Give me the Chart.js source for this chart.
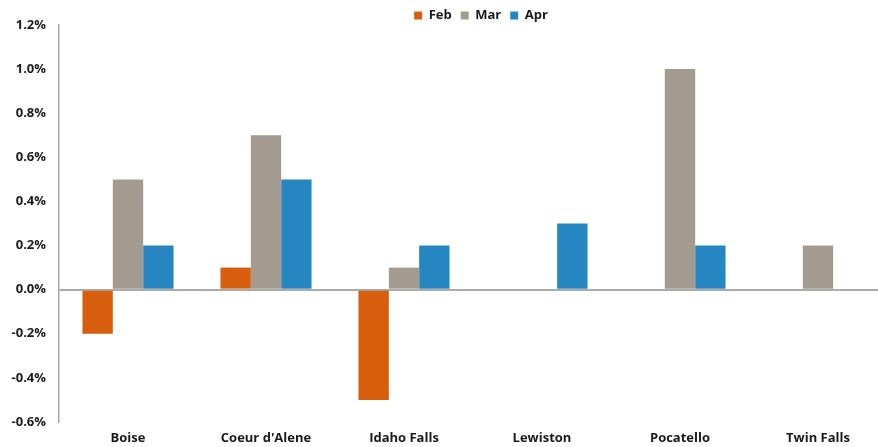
<!DOCTYPE html>
<html>
<head>
<meta charset="utf-8">
<script src="https://cdn.jsdelivr.net/npm/chart.js@4"></script>
<style>
    html, body { margin: 0; padding: 0; background: #fff; overflow: hidden; }
    #wrap { width: 887px; height: 447px; position: relative; }
</style>
</head>
<body>
<div id="wrap"><canvas id="barChart"></canvas></div>
<script>
const cities = ['Boise', "Coeur d'Alene", 'Idaho Falls', 'Lewiston', 'Pocatello', 'Twin Falls'];
const febValues = [-0.2, 0.1, -0.5, 0, 0, 0];
const marValues = [0.5, 0.7, 0.1, 0, 1.0, 0.2];
const aprValues = [0.2, 0.5, 0.2, 0.3, 0.2, 0];
const yMin = -0.6;
const yMax = 1.2;
const yStep = 0.2;

const fontFamily = "'Open Sans', 'Noto Sans', sans-serif";
const textColor = '#1a1a1a';

const ctx = document.getElementById('barChart').getContext('2d');

const datasets = [
    { label: 'Feb', data: febValues, backgroundColor: '#d65e0c' },
    { label: 'Mar', data: marValues, backgroundColor: '#a39b8f' },
    { label: 'Apr', data: aprValues, backgroundColor: '#2686c2' }
].map(ds => ({ ...ds, borderWidth: 0, barPercentage: 1, categoryPercentage: 0.66 }));

// nudge the legend a bit to the right, like the original
const legendShift = {
    id: 'legendShift',
    afterLayout(chart) {
        if (chart.legend) {
            chart.legend.left += 8;
            chart.legend.right += 8;
        }
    }
};

new Chart(ctx, {
    type: 'bar',
    data: { labels: cities, datasets },
    plugins: [legendShift],
    options: {
        responsive: true,
        maintainAspectRatio: false,
        animation: false,
        layout: { padding: { top: 0, bottom: 0, left: 0, right: 0 } },
        plugins: {
            legend: {
                position: 'top',
                fullSize: false,
                maxHeight: 25,
                labels: {
                    color: textColor,
                    font: { family: fontFamily, size: 13, weight: 'bold' },
                    boxWidth: 8,
                    boxHeight: 8,
                    padding: 9
                }
            },
            tooltip: { enabled: false }
        },
        scales: {
            x: {
                afterFit: (scale) => { scale.height = 25; },
                grid: { display: false, drawTicks: false },
                border: { display: false },
                ticks: {
                    color: textColor,
                    font: { family: fontFamily, size: 13, weight: 'bold' },
                    padding: 8,
                    maxRotation: 0
                }
            },
            y: {
                min: yMin,
                max: yMax,
                afterFit: (scale) => { scale.width = 59; },
                grid: {
                    drawTicks: false,
                    color: (c) => (c.tick && Math.abs(c.tick.value) < 1e-9 ? '#ababab' : 'rgba(0,0,0,0)'),
                    lineWidth: 2
                },
                border: { display: true, color: '#a8a8a8', width: 1.5 },
                ticks: {
                    stepSize: yStep,
                    padding: 13,
                    color: textColor,
                    font: { family: fontFamily, size: 13, weight: 'bold' },
                    callback: (v) => v.toFixed(1) + '%'
                }
            }
        }
    }
});
</script>
</body>
</html>
